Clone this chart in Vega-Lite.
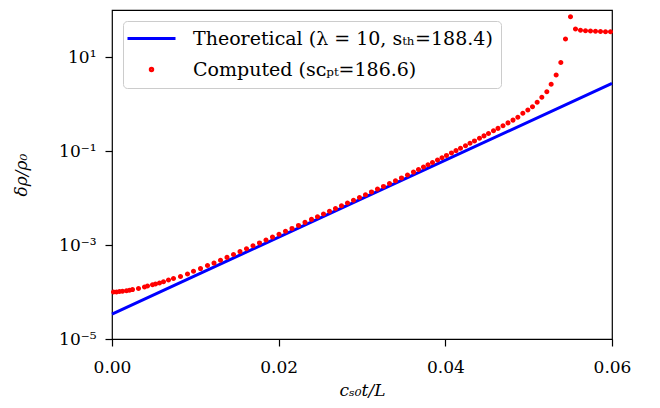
{
  "$schema": "https://vega.github.io/schema/vega-lite/v6.json",
  "width": 500,
  "height": 329,
  "autosize": {"type": "none"},
  "padding": {"left": 112, "top": 10, "right": 48, "bottom": 69},
  "background": "white",
  "config": {
    "view": {"stroke": "black", "strokeWidth": 1.2},
    "axis": {
      "labelFont": "DejaVu Serif",
      "labelFontSize": 17,
      "labelColor": "black",
      "labelFlush": false,
      "titleFont": "DejaVu Serif",
      "titleFontSize": 17,
      "titleFontWeight": "normal",
      "titleFontStyle": "italic",
      "titleColor": "black",
      "tickColor": "black",
      "tickSize": 7,
      "tickWidth": 1.2,
      "domain": false,
      "grid": false
    }
  },
  "datasets": {
    "theory": [
      {"t": 0.0, "rho": 3.39e-5, "series": "Theoretical (λ = 10, sₜₕ=188.4)"},
      {"t": 0.03, "rho": 0.00966, "series": "Theoretical (λ = 10, sₜₕ=188.4)"},
      {"t": 0.06, "rho": 2.75, "series": "Theoretical (λ = 10, sₜₕ=188.4)"}
    ],
    "computed": [
      {"t": 0.00018, "rho": 0.0001, "series": "Computed (sᴄₚₜ=186.6)"},
      {"t": 0.00054, "rho": 0.0001, "series": "Computed (sᴄₚₜ=186.6)"},
      {"t": 0.0009, "rho": 0.0001025, "series": "Computed (sᴄₚₜ=186.6)"},
      {"t": 0.00126, "rho": 0.0001035, "series": "Computed (sᴄₚₜ=186.6)"},
      {"t": 0.00174, "rho": 0.000106, "series": "Computed (sᴄₚₜ=186.6)"},
      {"t": 0.0021, "rho": 0.0001087, "series": "Computed (sᴄₚₜ=186.6)"},
      {"t": 0.00246, "rho": 0.0001125, "series": "Computed (sᴄₚₜ=186.6)"},
      {"t": 0.00318, "rho": 0.0001187, "series": "Computed (sᴄₚₜ=186.6)"},
      {"t": 0.0039, "rho": 0.0001278, "series": "Computed (sᴄₚₜ=186.6)"},
      {"t": 0.00426, "rho": 0.0001342, "series": "Computed (sᴄₚₜ=186.6)"},
      {"t": 0.00486, "rho": 0.0001423, "series": "Computed (sᴄₚₜ=186.6)"},
      {"t": 0.00522, "rho": 0.000148, "series": "Computed (sᴄₚₜ=186.6)"},
      {"t": 0.0057, "rho": 0.0001554, "series": "Computed (sᴄₚₜ=186.6)"},
      {"t": 0.00618, "rho": 0.0001656, "series": "Computed (sᴄₚₜ=186.6)"},
      {"t": 0.00678, "rho": 0.00018, "series": "Computed (sᴄₚₜ=186.6)"},
      {"t": 0.00738, "rho": 0.0001937, "series": "Computed (sᴄₚₜ=186.6)"},
      {"t": 0.00822, "rho": 0.0002137, "series": "Computed (sᴄₚₜ=186.6)"},
      {"t": 0.00906, "rho": 0.0002415, "series": "Computed (sᴄₚₜ=186.6)"},
      {"t": 0.00978, "rho": 0.0002757, "series": "Computed (sᴄₚₜ=186.6)"},
      {"t": 0.01062, "rho": 0.0003147, "series": "Computed (sᴄₚₜ=186.6)"},
      {"t": 0.01146, "rho": 0.0003664, "series": "Computed (sᴄₚₜ=186.6)"},
      {"t": 0.01224, "rho": 0.000412, "series": "Computed (sᴄₚₜ=186.6)"},
      {"t": 0.01302, "rho": 0.000473, "series": "Computed (sᴄₚₜ=186.6)"},
      {"t": 0.0138, "rho": 0.000545, "series": "Computed (sᴄₚₜ=186.6)"},
      {"t": 0.01458, "rho": 0.000628, "series": "Computed (sᴄₚₜ=186.6)"},
      {"t": 0.01536, "rho": 0.000724, "series": "Computed (sᴄₚₜ=186.6)"},
      {"t": 0.01614, "rho": 0.000834, "series": "Computed (sᴄₚₜ=186.6)"},
      {"t": 0.01692, "rho": 0.000962, "series": "Computed (sᴄₚₜ=186.6)"},
      {"t": 0.0177, "rho": 0.001108, "series": "Computed (sᴄₚₜ=186.6)"},
      {"t": 0.01848, "rho": 0.001277, "series": "Computed (sᴄₚₜ=186.6)"},
      {"t": 0.01926, "rho": 0.001473, "series": "Computed (sᴄₚₜ=186.6)"},
      {"t": 0.02004, "rho": 0.001697, "series": "Computed (sᴄₚₜ=186.6)"},
      {"t": 0.02082, "rho": 0.001956, "series": "Computed (sᴄₚₜ=186.6)"},
      {"t": 0.0216, "rho": 0.002255, "series": "Computed (sᴄₚₜ=186.6)"},
      {"t": 0.02238, "rho": 0.002612, "series": "Computed (sᴄₚₜ=186.6)"},
      {"t": 0.02316, "rho": 0.003026, "series": "Computed (sᴄₚₜ=186.6)"},
      {"t": 0.02394, "rho": 0.003505, "series": "Computed (sᴄₚₜ=186.6)"},
      {"t": 0.02466, "rho": 0.00398, "series": "Computed (sᴄₚₜ=186.6)"},
      {"t": 0.02538, "rho": 0.00457, "series": "Computed (sᴄₚₜ=186.6)"},
      {"t": 0.0261, "rho": 0.00521, "series": "Computed (sᴄₚₜ=186.6)"},
      {"t": 0.02682, "rho": 0.00598, "series": "Computed (sᴄₚₜ=186.6)"},
      {"t": 0.02754, "rho": 0.00682, "series": "Computed (sᴄₚₜ=186.6)"},
      {"t": 0.02826, "rho": 0.00783, "series": "Computed (sᴄₚₜ=186.6)"},
      {"t": 0.02898, "rho": 0.00898, "series": "Computed (sᴄₚₜ=186.6)"},
      {"t": 0.0297, "rho": 0.01025, "series": "Computed (sᴄₚₜ=186.6)"},
      {"t": 0.03042, "rho": 0.01175, "series": "Computed (sᴄₚₜ=186.6)"},
      {"t": 0.03114, "rho": 0.01348, "series": "Computed (sᴄₚₜ=186.6)"},
      {"t": 0.03186, "rho": 0.01547, "series": "Computed (sᴄₚₜ=186.6)"},
      {"t": 0.03258, "rho": 0.01765, "series": "Computed (sᴄₚₜ=186.6)"},
      {"t": 0.0333, "rho": 0.02034, "series": "Computed (sᴄₚₜ=186.6)"},
      {"t": 0.03402, "rho": 0.02334, "series": "Computed (sᴄₚₜ=186.6)"},
      {"t": 0.03474, "rho": 0.02677, "series": "Computed (sᴄₚₜ=186.6)"},
      {"t": 0.03546, "rho": 0.03086, "series": "Computed (sᴄₚₜ=186.6)"},
      {"t": 0.03618, "rho": 0.03557, "series": "Computed (sᴄₚₜ=186.6)"},
      {"t": 0.03678, "rho": 0.0404, "series": "Computed (sᴄₚₜ=186.6)"},
      {"t": 0.03738, "rho": 0.0457, "series": "Computed (sᴄₚₜ=186.6)"},
      {"t": 0.03792, "rho": 0.0509, "series": "Computed (sᴄₚₜ=186.6)"},
      {"t": 0.03846, "rho": 0.0569, "series": "Computed (sᴄₚₜ=186.6)"},
      {"t": 0.03906, "rho": 0.0644, "series": "Computed (sᴄₚₜ=186.6)"},
      {"t": 0.0396, "rho": 0.072, "series": "Computed (sᴄₚₜ=186.6)"},
      {"t": 0.04014, "rho": 0.0806, "series": "Computed (sᴄₚₜ=186.6)"},
      {"t": 0.04074, "rho": 0.0911, "series": "Computed (sᴄₚₜ=186.6)"},
      {"t": 0.04128, "rho": 0.102, "series": "Computed (sᴄₚₜ=186.6)"},
      {"t": 0.04182, "rho": 0.1141, "series": "Computed (sᴄₚₜ=186.6)"},
      {"t": 0.04242, "rho": 0.1296, "series": "Computed (sᴄₚₜ=186.6)"},
      {"t": 0.04296, "rho": 0.1458, "series": "Computed (sᴄₚₜ=186.6)"},
      {"t": 0.0435, "rho": 0.164, "series": "Computed (sᴄₚₜ=186.6)"},
      {"t": 0.0441, "rho": 0.1863, "series": "Computed (sᴄₚₜ=186.6)"},
      {"t": 0.04464, "rho": 0.2096, "series": "Computed (sᴄₚₜ=186.6)"},
      {"t": 0.04518, "rho": 0.2357, "series": "Computed (sᴄₚₜ=186.6)"},
      {"t": 0.04578, "rho": 0.269, "series": "Computed (sᴄₚₜ=186.6)"},
      {"t": 0.04632, "rho": 0.3026, "series": "Computed (sᴄₚₜ=186.6)"},
      {"t": 0.04692, "rho": 0.3454, "series": "Computed (sᴄₚₜ=186.6)"},
      {"t": 0.04752, "rho": 0.3962, "series": "Computed (sᴄₚₜ=186.6)"},
      {"t": 0.04812, "rho": 0.4543, "series": "Computed (sᴄₚₜ=186.6)"},
      {"t": 0.0487, "rho": 0.5212, "series": "Computed (sᴄₚₜ=186.6)"},
      {"t": 0.0493, "rho": 0.6341, "series": "Computed (sᴄₚₜ=186.6)"},
      {"t": 0.0499, "rho": 0.7453, "series": "Computed (sᴄₚₜ=186.6)"},
      {"t": 0.05046, "rho": 0.8763, "series": "Computed (sᴄₚₜ=186.6)"},
      {"t": 0.05102, "rho": 1.087, "series": "Computed (sᴄₚₜ=186.6)"},
      {"t": 0.05158, "rho": 1.388, "series": "Computed (sᴄₚₜ=186.6)"},
      {"t": 0.05218, "rho": 1.827, "series": "Computed (sᴄₚₜ=186.6)"},
      {"t": 0.0527, "rho": 2.625, "series": "Computed (sᴄₚₜ=186.6)"},
      {"t": 0.0533, "rho": 4.14, "series": "Computed (sᴄₚₜ=186.6)"},
      {"t": 0.05386, "rho": 7.638, "series": "Computed (sᴄₚₜ=186.6)"},
      {"t": 0.05442, "rho": 24.15, "series": "Computed (sᴄₚₜ=186.6)"},
      {"t": 0.05502, "rho": 72.0, "series": "Computed (sᴄₚₜ=186.6)"},
      {"t": 0.05562, "rho": 39.42, "series": "Computed (sᴄₚₜ=186.6)"},
      {"t": 0.05622, "rho": 36.98, "series": "Computed (sᴄₚₜ=186.6)"},
      {"t": 0.05682, "rho": 36.27, "series": "Computed (sᴄₚₜ=186.6)"},
      {"t": 0.05742, "rho": 35.74, "series": "Computed (sᴄₚₜ=186.6)"},
      {"t": 0.05802, "rho": 35.22, "series": "Computed (sᴄₚₜ=186.6)"},
      {"t": 0.05862, "rho": 34.88, "series": "Computed (sᴄₚₜ=186.6)"},
      {"t": 0.05922, "rho": 34.54, "series": "Computed (sᴄₚₜ=186.6)"},
      {"t": 0.05982, "rho": 34.37, "series": "Computed (sᴄₚₜ=186.6)"}
    ]
  },
  "encoding": {
    "x": {
      "field": "t", "type": "quantitative",
      "scale": {"domain": [0, 0.06], "nice": false, "zero": false},
      "axis": {"values": [0, 0.02, 0.04, 0.06], "format": ".2f", "title": "cₛ₀t/L", "labelPadding": 13, "titlePadding": 7}
    },
    "y": {
      "field": "rho", "type": "quantitative",
      "scale": {"type": "log", "domain": [0.00001, 100], "nice": false},
      "axis": {
        "values": [0.00001, 0.001, 0.1, 10],
        "labelExpr": "datum.value > 1 ? '10¹' : datum.value > 0.01 ? '10⁻¹' : datum.value > 0.0001 ? '10⁻³' : '10⁻⁵'",
        "title": "δρ/ρ₀", "labelPadding": 9, "titlePadding": 28
      }
    },
    "color": {
      "field": "series", "type": "nominal",
      "scale": {
        "domain": ["Theoretical (λ = 10, sₜₕ=188.4)", "Computed (sᴄₚₜ=186.6)"],
        "range": ["#0000ff", "#ff0000"]
      },
      "legend": {
        "title": null,
        "orient": "top-left",
        "offset": 11,
        "strokeColor": "#cccccc",
        "fillColor": "rgba(255,255,255,0.8)",
        "cornerRadius": 4,
        "padding": 8,
        "labelFont": "DejaVu Serif",
        "labelFontSize": 19,
        "labelColor": "black",
        "symbolOffset": 11,
        "labelOffset": 32,
        "labelLimit": 500,
        "rowPadding": 11,
        "symbolStrokeWidth": 3
      }
    }
  },
  "layer": [
    {
      "data": {"name": "theory"},
      "mark": {"type": "line", "strokeWidth": 3},
      "encoding": {}
    },
    {
      "data": {"name": "computed"},
      "mark": {"type": "point", "filled": false, "strokeWidth": 2.6, "opacity": 1},
      "encoding": {
        "shape": {
          "field": "series", "type": "nominal",
          "scale": {"domain": ["Theoretical (λ = 10, sₜₕ=188.4)", "Computed (sᴄₚₜ=186.6)"], "range": ["M-4.8,0H4.8", "circle"]}
        },
        "size": {
          "field": "series", "type": "nominal",
          "scale": {"domain": ["Theoretical (λ = 10, sₜₕ=188.4)", "Computed (sᴄₚₜ=186.6)"], "range": [100, 6]}
        }
      }
    }
  ]
}
